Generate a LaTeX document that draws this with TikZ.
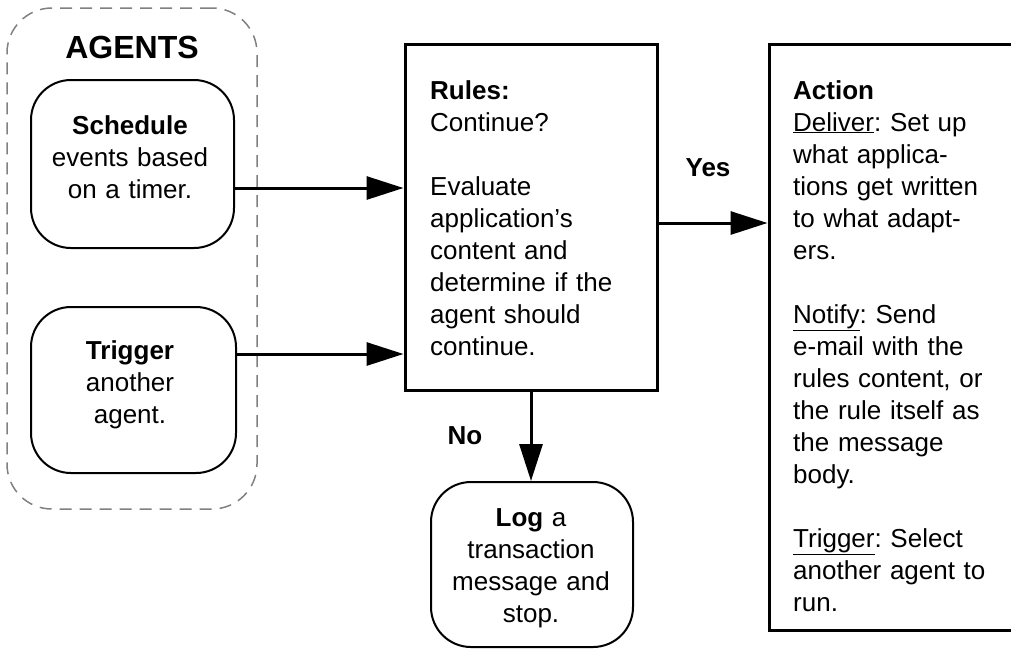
\documentclass[tikz,border=0pt]{standalone}
\usepackage{fontspec}
\setmainfont{Liberation Sans}
\usetikzlibrary{arrows.meta}
\frenchspacing
\begin{document}
\begin{tikzpicture}[x=1pt,y=-1pt,
  txt/.style={inner sep=0pt, font=\fontsize{26}{32}\selectfont},
  ctxt/.style={txt, text width=200pt, align=center, anchor=base},
  ltxt/.style={txt, text width=225pt, align=left, anchor=base west},
  rbox/.style={draw, line width=2pt, rounded corners=40pt, inner sep=0pt},
  sbox/.style={draw, line width=3pt, inner sep=0pt},
  arr/.style={line width=3pt, -{Triangle[length=37pt,width=23pt]}}]
\useasboundingbox (0,0) rectangle (1011,649);
\clip (0,0) rectangle (1011,649);
% agents group
\node[draw=black!50, dash pattern=on 12pt off 8pt, line width=1.5pt, rounded corners=45pt,
      minimum width=250pt, minimum height=501pt, inner sep=0pt] (agents) at (132,258.5) {};
\node[txt, anchor=base, font=\bfseries\fontsize{32}{38}\selectfont] (agentstitle) at (132,58.5) {AGENTS};
% schedule
\node[rbox, minimum width=203pt, minimum height=168pt] (sched) at (132.5,164) {};
\node[ctxt] (schedtxt) at (130,134) {\textbf{Schedule}\\events based\\on a timer.};
% trigger
\node[rbox, minimum width=205pt, minimum height=166pt] (trig) at (133.5,390) {};
\node[ctxt] (trigtxt) at (130,359) {\textbf{Trigger}\\another\\agent.};
% rules
\node[sbox, minimum width=252pt, minimum height=346pt] (rules) at (531,217) {};
\node[ltxt] (rulestxt) at (430,99) {\textbf{Rules:}\\Continue?\\[32pt]Evaluate\\application’s\\content and\\determine if the\\agent should\\continue.};
% action
\node[sbox, minimum width=260pt, minimum height=586pt] (action) at (899,337) {};
\node[ltxt] (actiontxt) at (793,99) {\textbf{Action}\\\underline{Deliver}: Set up\\what applica-\\tions get written\\to what adapt-\\ers.\\[32pt]\underline{Notify}: Send\\e-mail with the\\rules content, or\\the rule itself as\\the message\\body.\\[32pt]\underline{Trigger}: Select\\another agent to\\run.};
% log
\node[rbox, minimum width=202pt, minimum height=165pt] (log) at (532,564.5) {};
\node[ctxt] (logtxt) at (531,526) {\textbf{Log} a\\transaction\\message and\\stop.};
% labels
\node[txt, anchor=base, font=\bfseries\fontsize{26}{32}\selectfont] (yes) at (708,176) {Yes};
\node[txt, anchor=base, font=\bfseries\fontsize{26}{32}\selectfont] (no) at (465,444) {No};
% connectors
\path ([yshift=-24pt]sched.east) coordinate (a1);
\draw[arr] (a1) -- (a1 -| rules.west);
\path ([yshift=36pt]trig.east) coordinate (a2);
\draw[arr] (a2) -- (a2 -| rules.west);
\path ([yshift=-6pt]rules.east) coordinate (a3);
\draw[arr] (a3) -- (a3 -| action.west);
\draw[arr] (rules.south) -- (rules.south |- log.north);
\end{tikzpicture}
\end{document}
